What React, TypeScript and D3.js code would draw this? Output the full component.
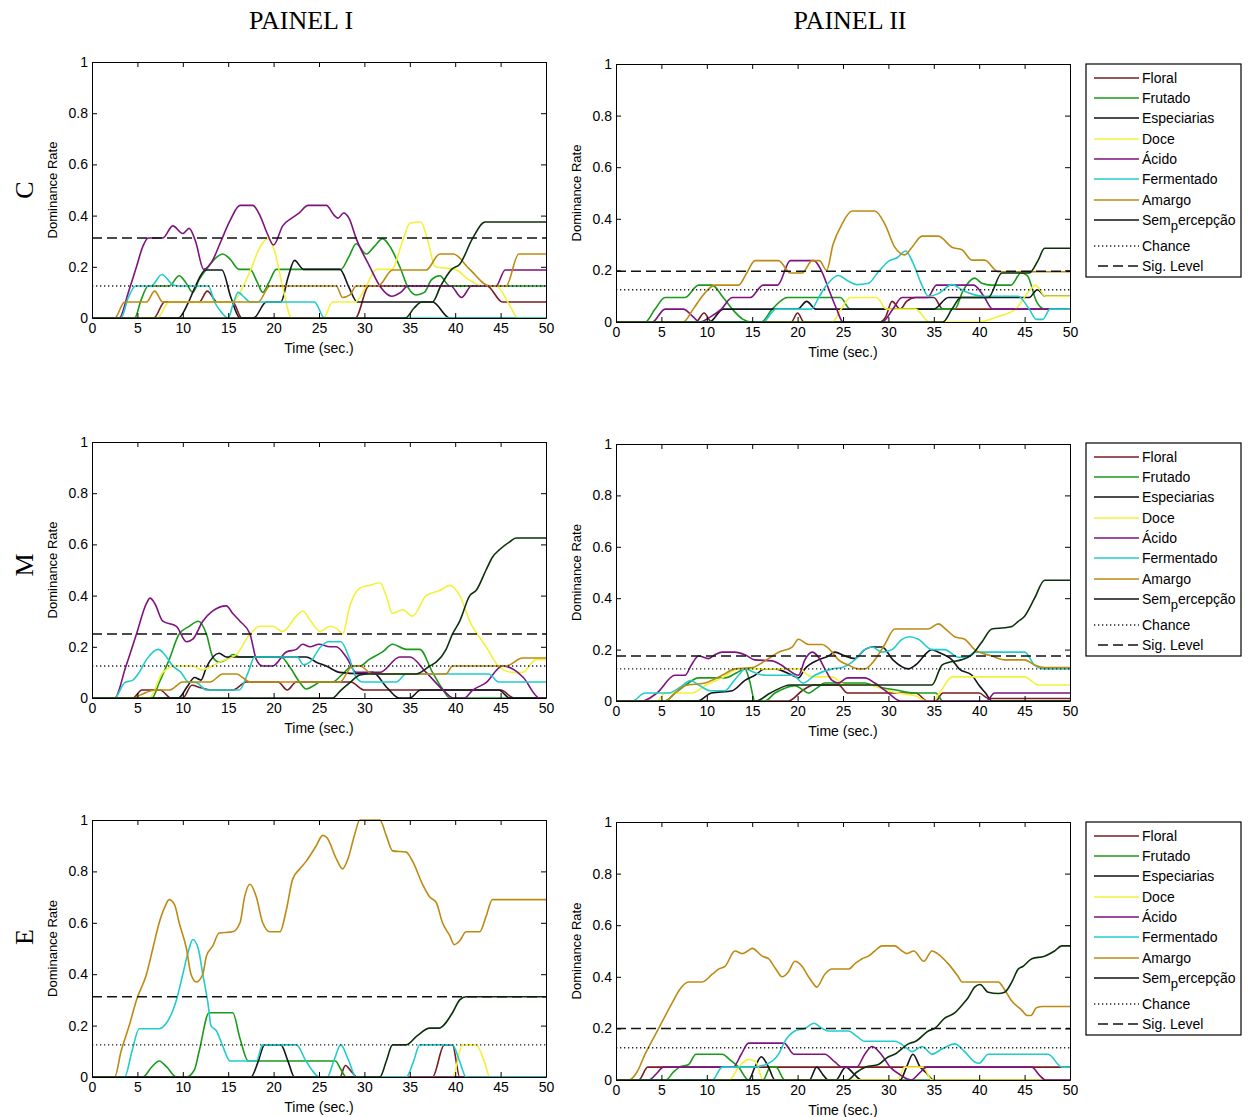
import React, { useEffect, useRef } from 'react'
import * as d3 from 'd3'

const WIDTH = 1248
const HEIGHT = 1117

type Pt = [number, number]

const SERIES_NAMES = ['Floral', 'Frutado', 'Especiarias', 'Doce', 'Ácido', 'Fermentado', 'Amargo', 'Sem_percepção']
const SERIES_COLORS = ['#7a1c22', '#1a9a1a', '#14141e', '#f2f23a', '#7e127e', '#22cccc', '#bd8a12', '#0c300c']
const X_TICKS = [0, 5, 10, 15, 20, 25, 30, 35, 40, 45, 50]
const Y_TICKS = [0, 0.2, 0.4, 0.6, 0.8, 1]
const PANEL_TITLES = ['PAINEL I', 'PAINEL II']
const ROW_LABELS = ['C', 'M', 'E']
const CHANCE_LEVEL = 0.125
const SIG_I = [0.3125, 0.25, 0.3125]
const SIG_II = [0.197, 0.175, 0.2]

// ---- C / Painel I
const C_I_FLORAL: Pt[] = [[0, 0], [6.8, 0], [8, 0.0625], [11.8, 0.0625], [12.7, 0.105], [13.8, 0.0625], [15.5, 0.0625], [16.5, 0], [29, 0], [30.5, 0.125], [43.5, 0.125], [45.2, 0.0625], [50, 0.0625]]
const C_I_FRUTADO: Pt[] = [[0, 0], [4.7, 0], [5.4, 0.07], [6.2, 0.125], [8.5, 0.125], [9.6, 0.165], [10.3, 0.14], [11.1, 0.1], [11.8, 0.15], [12.6, 0.19], [13.5, 0.23], [14.4, 0.25], [15.2, 0.23], [16.2, 0.19], [17.4, 0.19], [18.2, 0.14], [18.8, 0.1], [19.5, 0.14], [20.3, 0.19], [27.4, 0.19], [28.3, 0.24], [29.1, 0.29], [30.2, 0.25], [31.1, 0.28], [32, 0.31], [32.8, 0.28], [33.9, 0.2], [34.8, 0.12], [35.7, 0.09], [36.6, 0.1], [37.4, 0.15], [38.3, 0.165], [39.4, 0.125], [50, 0.125]]
const C_I_ESPECIARIAS: Pt[] = [[0, 0], [9.5, 0], [10.6, 0.06], [11.4, 0.125], [12.5, 0.1875], [14.3, 0.1875], [15.3, 0.08], [16.3, 0], [17.8, 0], [19.2, 0.0625], [20.8, 0.0625], [21.6, 0.16], [22.3, 0.225], [23.3, 0.19], [27.3, 0.19], [28.3, 0.12], [29.2, 0.0625], [37.5, 0.0625], [39.4, 0], [50, 0]]
const C_I_DOCE: Pt[] = [[0, 0], [7.2, 0], [8.5, 0.0625], [15.5, 0.0625], [16.3, 0.1], [17.5, 0.19], [18.4, 0.27], [19.4, 0.31], [20.2, 0.25], [21, 0.12], [22, 0], [25.5, 0], [26.5, 0.0625], [29, 0.0625], [30.2, 0.125], [31.3, 0.19], [33, 0.19], [34.2, 0.3], [35, 0.37], [36.2, 0.375], [37, 0.3], [37.8, 0.2], [40, 0.19], [41.5, 0.15], [43, 0.125], [44.5, 0.125], [46, 0.05], [46.9, 0], [50, 0]]
const C_I_ACIDO: Pt[] = [[0, 0], [3, 0], [4, 0.1], [4.9, 0.2], [5.6, 0.28], [6.2, 0.3125], [7.8, 0.3125], [8.9, 0.36], [10, 0.33], [10.7, 0.35], [11.4, 0.3], [12.3, 0.19], [13.2, 0.22], [14.2, 0.3], [15.2, 0.38], [16.3, 0.44], [17.7, 0.44], [18.5, 0.4], [19.3, 0.33], [20, 0.285], [21, 0.36], [22, 0.39], [22.8, 0.41], [23.8, 0.44], [25.8, 0.44], [26.7, 0.4], [27.1, 0.39], [27.7, 0.41], [28.3, 0.39], [29.1, 0.31], [30.6, 0.2], [31.8, 0.12], [33, 0.085], [34, 0.1], [34.8, 0.125], [39.5, 0.125], [40.7, 0.08], [41.8, 0.125], [44.5, 0.125], [45.5, 0.1875], [50, 0.1875]]
const C_I_FERMENTADO: Pt[] = [[0, 0], [3.2, 0], [4, 0.08], [4.8, 0.125], [6.5, 0.125], [7.7, 0.17], [8.9, 0.13], [9.5, 0.125], [12.8, 0.125], [13.5, 0.0625], [14.3, 0.02], [15, 0], [15.5, 0.05], [16.1, 0.1], [16.8, 0.08], [17.4, 0.0625], [24.5, 0.0625], [25.6, 0], [50, 0]]
const C_I_AMARGO: Pt[] = [[0, 0], [2.5, 0], [3.6, 0.0625], [6, 0.0625], [6.9, 0.105], [7.8, 0.0625], [18.3, 0.0625], [19.6, 0.125], [26.9, 0.125], [27.6, 0.08], [28.4, 0.09], [29.1, 0.125], [31.5, 0.125], [33.1, 0.1875], [36.8, 0.1875], [38.3, 0.25], [39.8, 0.25], [41.6, 0.19], [43.8, 0.125], [45.6, 0.125], [47, 0.25], [50, 0.25]]
const C_I_SEMP: Pt[] = [[0, 0], [34.5, 0], [35.5, 0.04], [36.3, 0.0625], [37.5, 0.0625], [38.4, 0.125], [39.6, 0.19], [40.5, 0.21], [41.9, 0.31], [43.3, 0.375], [50, 0.375]]

// ---- C / Painel II
const C_II_FLORAL: Pt[] = [[0, 0], [8.8, 0], [9.7, 0.035], [10.5, 0], [19.3, 0], [20, 0.035], [20.7, 0], [29, 0], [29.7, 0.02], [30.4, 0.08], [31.3, 0.05], [32, 0.08], [33, 0.095], [35, 0.095], [36, 0.05], [50, 0.05]]
const C_II_FRUTADO: Pt[] = [[0, 0], [3.2, 0], [4.3, 0.05], [5.4, 0.095], [7.6, 0.095], [9.1, 0.143], [10.6, 0.143], [11.7, 0.1], [12.8, 0.05], [14, 0.01], [14.8, 0], [16, 0], [17.2, 0.05], [18.9, 0.095], [24.7, 0.095], [25.8, 0.05], [37.3, 0.05], [38.2, 0.12], [39.5, 0.17], [40.3, 0.15], [41.3, 0.143], [43.5, 0.143], [44.6, 0.19], [45.3, 0.18], [46.3, 0.08], [47.2, 0.05], [50, 0.05]]
const C_II_ESPECIARIAS: Pt[] = [[0, 0], [10.3, 0], [11.8, 0.05], [20, 0.05], [21, 0.08], [22, 0.05], [35, 0.05], [36.6, 0.095], [45.5, 0.095], [46.4, 0.125], [47.3, 0.1], [50, 0.1]]
const C_II_DOCE: Pt[] = [[0, 0], [23.8, 0], [24.8, 0.05], [25.8, 0.095], [28.7, 0.095], [29.8, 0.05], [33, 0.05], [34.5, 0], [40, 0], [42, 0.02], [44, 0.05], [45.5, 0.12], [46.2, 0.143], [47.3, 0.1], [50, 0.1]]
const C_II_ACIDO: Pt[] = [[0, 0], [4, 0], [5.4, 0.05], [7.4, 0.05], [8.5, 0.02], [9.2, 0], [10.4, 0.02], [11.6, 0.05], [12.8, 0.095], [14.8, 0.095], [16.2, 0.143], [17.8, 0.143], [19.2, 0.238], [21.8, 0.238], [22.6, 0.2], [23.5, 0.12], [24.3, 0.05], [25, 0], [29.3, 0], [30.5, 0.05], [31.5, 0.095], [34.3, 0.095], [35.3, 0.143], [39.4, 0.143], [40.5, 0.1], [41.5, 0.05], [50, 0.05]]
const C_II_FERMENTADO: Pt[] = [[0, 0], [16.2, 0], [17.6, 0.05], [21.5, 0.05], [22.4, 0.1], [23.2, 0.143], [24.5, 0.18], [25.5, 0.16], [26.5, 0.145], [27.8, 0.15], [28.8, 0.19], [30, 0.235], [31, 0.25], [31.9, 0.275], [32.7, 0.23], [33.6, 0.15], [34.4, 0.1], [35.5, 0.11], [37, 0.145], [38.3, 0.12], [40.5, 0.1], [44.3, 0.1], [45.5, 0.05], [46.3, 0.01], [47, 0.01], [47.8, 0.05], [50, 0.05]]
const C_II_AMARGO: Pt[] = [[0, 0], [7.4, 0], [8.5, 0.05], [9.5, 0.1], [10.9, 0.143], [13.5, 0.143], [14.4, 0.19], [15.3, 0.238], [17.9, 0.238], [19.2, 0.19], [20.5, 0.19], [21.6, 0.238], [22.4, 0.238], [23.2, 0.2], [23.9, 0.3], [24.9, 0.38], [26, 0.43], [28.5, 0.43], [29.6, 0.38], [30.7, 0.29], [31.8, 0.26], [32.6, 0.29], [33.7, 0.333], [35.5, 0.333], [37, 0.29], [38.1, 0.28], [39.2, 0.24], [40.6, 0.24], [42.1, 0.195], [50, 0.195]]
const C_II_SEMP: Pt[] = [[0, 0], [36, 0], [37, 0.05], [38, 0.095], [41, 0.095], [42.5, 0.19], [45.5, 0.19], [46.5, 0.24], [47.2, 0.286], [50, 0.286]]

// ---- M / Painel I
const M_I_FLORAL: Pt[] = [[0, 0], [4.5, 0], [5.5, 0.031], [7.5, 0.031], [8.7, 0], [10, 0], [11, 0.05], [12, 0.04], [13.3, 0.031], [15.5, 0.031], [17, 0.0625], [20.5, 0.0625], [21.5, 0.031], [22.5, 0.0625], [28.5, 0.0625], [30, 0.031], [45, 0.031], [46.5, 0], [50, 0]]
const M_I_FRUTADO: Pt[] = [[0, 0], [6.6, 0], [7.4, 0.06], [8.5, 0.15], [9.6, 0.25], [10.7, 0.28], [11.7, 0.3], [12.6, 0.25], [13.3, 0.16], [14, 0.14], [14.8, 0.15], [15.5, 0.17], [16.3, 0.16], [20.8, 0.16], [21.8, 0.12], [22.9, 0.06], [23.6, 0.035], [24.5, 0.05], [25.1, 0.0625], [26.5, 0.0625], [27.5, 0.09], [28.7, 0.125], [29.5, 0.125], [30.5, 0.15], [32, 0.18], [33.1, 0.21], [34.6, 0.19], [36.1, 0.19], [37.5, 0.1], [38.6, 0.035], [39.4, 0], [50, 0]]
const M_I_ESPECIARIAS: Pt[] = [[0, 0], [9.5, 0], [10.5, 0.045], [11.3, 0.08], [12, 0.07], [12.6, 0.12], [14, 0.175], [14.8, 0.16], [23.6, 0.16], [24.7, 0.14], [25.8, 0.125], [27.3, 0.1], [29.5, 0.095], [30.9, 0.1], [32.5, 0.04], [33.8, 0], [35, 0], [36.2, 0.031], [44.8, 0.031], [46, 0], [50, 0]]
const M_I_DOCE: Pt[] = [[0, 0], [6.3, 0], [7.8, 0.1], [9.3, 0.125], [11.1, 0.125], [12, 0.11], [13, 0.12], [14, 0.14], [15.9, 0.17], [17.4, 0.25], [18.5, 0.28], [19.9, 0.28], [21, 0.26], [22.5, 0.32], [23.2, 0.34], [24.1, 0.3], [25.1, 0.26], [26.2, 0.28], [27, 0.27], [27.6, 0.25], [28.4, 0.36], [29.5, 0.43], [30.6, 0.44], [31.7, 0.45], [32.4, 0.4], [33.1, 0.33], [34.2, 0.345], [35.3, 0.32], [36.8, 0.4], [38.3, 0.42], [39.4, 0.44], [40.5, 0.4], [41.6, 0.3], [43.4, 0.2], [44.9, 0.12], [46.3, 0.1], [47.4, 0.1], [48.9, 0.15], [50, 0.15]]
const M_I_ACIDO: Pt[] = [[0, 0], [2.5, 0], [3.7, 0.12], [4.9, 0.25], [6, 0.37], [6.4, 0.39], [6.9, 0.37], [7.8, 0.3], [9.3, 0.28], [10.4, 0.22], [11.1, 0.23], [12.2, 0.3], [13.3, 0.34], [14.8, 0.36], [15.5, 0.33], [16.3, 0.3], [17.4, 0.25], [18.1, 0.15], [18.8, 0.125], [19.9, 0.125], [21.4, 0.18], [22.5, 0.19], [23.2, 0.21], [24, 0.2], [25, 0.21], [26.2, 0.2], [26.9, 0.2], [28, 0.16], [29.1, 0.1], [31.7, 0.1], [33.9, 0.16], [35, 0.16], [36.8, 0.1], [38.7, 0.03], [39.8, 0], [41, 0], [41.9, 0.03], [43.4, 0.06], [45.2, 0.125], [46.5, 0.11], [47.5, 0.08], [49.3, 0], [50, 0]]
const M_I_FERMENTADO: Pt[] = [[0, 0], [2.5, 0], [3.6, 0.06], [4.5, 0.07], [5.2, 0.1], [6, 0.15], [7.3, 0.19], [8, 0.17], [8.9, 0.125], [9.8, 0.1], [10.6, 0.0625], [11.5, 0.06], [12.6, 0.031], [16.2, 0.031], [17.2, 0.1], [17.9, 0.16], [22.6, 0.16], [23.3, 0.13], [24, 0.14], [25.2, 0.2], [26, 0.22], [27.4, 0.22], [28.3, 0.16], [29.1, 0.08], [29.8, 0.0625], [33.5, 0.0625], [34.6, 0.094], [43.7, 0.094], [44.8, 0.0625], [50, 0.0625]]
const M_I_AMARGO: Pt[] = [[0, 0], [4.5, 0], [5.5, 0.015], [7, 0.031], [8.5, 0.031], [10, 0.0625], [13, 0.0625], [14.4, 0.094], [15.9, 0.094], [17.4, 0.0625], [27.3, 0.0625], [28.7, 0.125], [29.5, 0.125], [30.9, 0.094], [39, 0.094], [39.7, 0.125], [45.6, 0.125], [47.4, 0.156], [50, 0.156]]
const M_I_SEMP: Pt[] = [[0, 0], [26.5, 0], [27.4, 0.03], [28.4, 0.06], [29.5, 0.09], [30.5, 0.094], [35.7, 0.094], [37.2, 0.125], [37.9, 0.14], [39, 0.19], [39.7, 0.25], [40.5, 0.3], [41.6, 0.4], [42.3, 0.42], [43.4, 0.5], [44.1, 0.55], [44.9, 0.58], [46, 0.61], [46.7, 0.625], [50, 0.625]]

// ---- M / Painel II
const M_II_FLORAL: Pt[] = [[0, 0], [19, 0], [20.5, 0.04], [21.8, 0.0625], [24.5, 0.0625], [25.5, 0.031], [33, 0.031], [34.3, 0], [35.2, 0], [36, 0.031], [40, 0.031], [41, 0.01], [44, 0.01], [50, 0.01]]
const M_II_FRUTADO: Pt[] = [[0, 0], [5.4, 0], [6.5, 0.031], [7.6, 0.06], [9.1, 0.09], [12, 0.09], [13.3, 0.11], [14.2, 0.125], [14.7, 0.08], [15.3, 0], [16.4, 0], [17.5, 0.031], [18.6, 0.05], [19.7, 0.06], [20.5, 0.045], [21.2, 0.031], [22.1, 0.05], [23, 0.07], [27.4, 0.07], [28.4, 0.06], [29.5, 0.05], [30.5, 0.045], [33, 0.031], [35.2, 0.031], [36, 0], [50, 0]]
const M_II_ESPECIARIAS: Pt[] = [[0, 0], [9, 0], [10.5, 0.031], [12.8, 0.04], [14.2, 0.08], [15.3, 0.1], [16.4, 0.125], [17.5, 0.125], [19.4, 0.1], [20.1, 0.09], [20.8, 0.125], [22.3, 0.16], [23.4, 0.175], [24.1, 0.19], [25.2, 0.175], [26.3, 0.165], [27.4, 0.2], [28.2, 0.21], [29.3, 0.21], [30.5, 0.16], [32.2, 0.125], [33, 0.14], [34.8, 0.2], [35.5, 0.19], [37, 0.16], [37.8, 0.125], [39.2, 0.1], [40, 0.06], [40.7, 0.031], [41.4, 0], [50, 0]]
const M_II_DOCE: Pt[] = [[0, 0], [4.5, 0], [5.4, 0.031], [8.4, 0.031], [9.8, 0.06], [11.7, 0.09], [13.5, 0.125], [20.1, 0.125], [21.6, 0.094], [23.8, 0.094], [25.2, 0.0625], [28, 0.0625], [29.5, 0.045], [31, 0.031], [33, 0.02], [34.2, 0], [34.8, 0], [35.8, 0.04], [37, 0.094], [45, 0.094], [46.5, 0.0625], [50, 0.0625]]
const M_II_ACIDO: Pt[] = [[0, 0], [2.9, 0], [4.5, 0.031], [6.5, 0.1], [7.6, 0.1], [8.3, 0.14], [9.1, 0.175], [10.2, 0.165], [10.9, 0.18], [11.7, 0.19], [13.1, 0.19], [14.2, 0.18], [15.3, 0.16], [17.2, 0.156], [18.2, 0.14], [18.8, 0.125], [20.1, 0.1], [20.8, 0.16], [21.6, 0.19], [22.3, 0.17], [23, 0.125], [23.8, 0.08], [24.5, 0.07], [25.5, 0.09], [27.4, 0.09], [28.5, 0.07], [30, 0.031], [31.3, 0], [40.8, 0], [41.7, 0.031], [50, 0.031]]
const M_II_FERMENTADO: Pt[] = [[0, 0], [1.8, 0], [3.2, 0.031], [5.8, 0.031], [7.3, 0.06], [8.2, 0.08], [9.2, 0.06], [10.4, 0.04], [12, 0.04], [12.8, 0.07], [13.5, 0.1], [14.2, 0.125], [15.3, 0.11], [16.4, 0.1], [19.5, 0.1], [20.6, 0.07], [21.9, 0.1], [23.8, 0.125], [24.9, 0.13], [26.3, 0.16], [27.4, 0.2], [28.2, 0.21], [29.3, 0.19], [30.4, 0.2], [31.5, 0.24], [32.3, 0.25], [33.3, 0.24], [34.8, 0.2], [36.2, 0.2], [37.7, 0.17], [38.6, 0.17], [39.5, 0.19], [45, 0.19], [46.1, 0.14], [47.2, 0.125], [50, 0.125]]
const M_II_AMARGO: Pt[] = [[0, 0], [5.4, 0], [6.5, 0.031], [7.6, 0.06], [9.8, 0.07], [11.7, 0.1], [13.1, 0.125], [15, 0.13], [16.4, 0.156], [17.9, 0.19], [19.4, 0.21], [20.1, 0.24], [21.2, 0.22], [22.7, 0.22], [23.8, 0.19], [24.5, 0.16], [25.6, 0.14], [26.7, 0.125], [27.4, 0.125], [28.5, 0.16], [29.6, 0.22], [30.7, 0.28], [34.4, 0.28], [35.5, 0.3], [36.3, 0.28], [37.3, 0.25], [38.4, 0.24], [39.5, 0.2], [41.4, 0.175], [42.8, 0.16], [45, 0.16], [46.1, 0.14], [47.2, 0.13], [50, 0.13]]
const M_II_SEMP: Pt[] = [[0, 0], [15.4, 0], [17, 0.031], [19.2, 0.0625], [34.8, 0.0625], [35.9, 0.14], [36.6, 0.15], [38, 0.16], [39.2, 0.18], [40.3, 0.23], [41.4, 0.28], [42.8, 0.285], [43.6, 0.29], [44.3, 0.31], [45, 0.33], [46.1, 0.4], [47.2, 0.47], [50, 0.47]]

// ---- E / Painel I
const E_I_FLORAL: Pt[] = [[0, 0], [27.3, 0], [27.9, 0.045], [28.6, 0.02], [29.2, 0], [37.5, 0], [38.8, 0.125], [39.7, 0.125], [40.5, 0], [50, 0]]
const E_I_FRUTADO: Pt[] = [[0, 0], [5.6, 0], [6.6, 0.04], [7.4, 0.0625], [8.2, 0.04], [9.3, 0], [10.4, 0], [11.3, 0.03], [11.8, 0.1], [12.9, 0.25], [15.5, 0.25], [16.3, 0.15], [17.2, 0.0625], [26.8, 0.0625], [27.4, 0.03], [28, 0], [50, 0]]
const E_I_ESPECIARIAS: Pt[] = [[0, 0], [17.5, 0], [18.3, 0.06], [19, 0.125], [20.8, 0.125], [21.6, 0.06], [22.3, 0], [50, 0]]
const E_I_DOCE: Pt[] = [[0, 0], [39.7, 0], [40.8, 0.125], [42.3, 0.125], [43.3, 0.05], [43.8, 0], [50, 0]]
const E_I_ACIDO: Pt[] = [[0, 0], [50, 0]]
const E_I_FERMENTADO: Pt[] = [[0, 0], [3.6, 0], [4.4, 0.1], [5.2, 0.1875], [7.4, 0.1875], [8.2, 0.21], [9.3, 0.3], [10, 0.4], [10.7, 0.5], [11.1, 0.535], [11.7, 0.5], [12.2, 0.4], [12.8, 0.28], [13.1, 0.2], [13.7, 0.18], [14.4, 0.12], [15.2, 0.0625], [18.1, 0.0625], [18.8, 0.125], [22.5, 0.125], [23.6, 0.06], [25.1, 0], [25.9, 0], [26.7, 0.07], [27.4, 0.125], [28.2, 0.07], [29.1, 0], [34.6, 0], [35.4, 0.06], [36.1, 0.125], [39.7, 0.125], [40.5, 0.06], [41.2, 0], [50, 0]]
const E_I_AMARGO: Pt[] = [[0, 0], [2.5, 0], [3.2, 0.1], [4.1, 0.2], [4.9, 0.3], [6, 0.4], [6.7, 0.5], [7.4, 0.6], [8, 0.66], [8.5, 0.69], [9.1, 0.67], [9.6, 0.6], [10.4, 0.5], [10.9, 0.4], [11.5, 0.37], [12.2, 0.4], [12.6, 0.47], [13.3, 0.51], [14, 0.56], [15.5, 0.565], [16.3, 0.6], [16.8, 0.7], [17.4, 0.75], [18.1, 0.7], [18.8, 0.6], [19.6, 0.565], [20.7, 0.565], [21.4, 0.65], [22.1, 0.77], [22.9, 0.81], [23.6, 0.84], [24.7, 0.9], [25.4, 0.94], [25.9, 0.93], [26.9, 0.85], [27.6, 0.81], [28.2, 0.85], [28.9, 0.94], [29.5, 1], [31.7, 1], [32.4, 0.94], [33.1, 0.88], [34.6, 0.875], [35.3, 0.84], [36.4, 0.75], [37.2, 0.7], [37.9, 0.68], [38.6, 0.6], [39.4, 0.55], [39.9, 0.515], [40.5, 0.53], [41.2, 0.565], [42.7, 0.565], [43.4, 0.625], [44.1, 0.69], [50, 0.69]]
const E_I_SEMP: Pt[] = [[0, 0], [31.7, 0], [32.4, 0.06], [33.1, 0.125], [34.6, 0.125], [35.8, 0.16], [37.2, 0.19], [38.2, 0.19], [39.7, 0.25], [40.5, 0.3], [41.2, 0.3125], [50, 0.3125]]

// ---- E / Painel II
const E_II_FLORAL: Pt[] = [[0, 0], [2.5, 0], [3.5, 0.05], [50, 0.05]]
const E_II_FRUTADO: Pt[] = [[0, 0], [5.5, 0], [6.3, 0.03], [7, 0.05], [8, 0.06], [8.8, 0.1], [11.7, 0.1], [12.5, 0.08], [13.5, 0.05], [14.6, 0], [16.2, 0], [17, 0.05], [17.6, 0.05], [18.6, 0], [50, 0]]
const E_II_ESPECIARIAS: Pt[] = [[0, 0], [14.6, 0], [15.3, 0.05], [16, 0.09], [16.8, 0.05], [17.5, 0], [21.3, 0], [22.1, 0.05], [22.8, 0.02], [23.4, 0], [24.2, 0], [25.3, 0.05], [26.3, 0.02], [27, 0], [31.3, 0], [32, 0.05], [32.7, 0.1], [33.5, 0.05], [34.1, 0.03], [35, 0], [50, 0]]
const E_II_DOCE: Pt[] = [[0, 0], [12.5, 0], [13.5, 0.05], [14.6, 0.08], [15.4, 0.07], [16.2, 0], [31, 0], [31.8, 0.05], [33.8, 0.05], [34.8, 0], [50, 0]]
const E_II_ACIDO: Pt[] = [[0, 0], [3.6, 0], [4.6, 0.03], [5.2, 0.05], [12.9, 0.05], [13.8, 0.1], [14.6, 0.143], [18.5, 0.143], [19.6, 0.1], [23, 0.1], [24.1, 0.07], [24.9, 0.05], [26.5, 0.05], [27.4, 0.1], [28.2, 0.13], [29.2, 0.1], [30.2, 0.05], [31.3, 0.02], [32.5, 0], [33.5, 0.03], [34.2, 0.05], [45.8, 0.05], [46.6, 0.02], [47.3, 0], [50, 0]]
const E_II_FERMENTADO: Pt[] = [[0, 0], [10.6, 0], [11.7, 0.05], [15, 0.05], [16.5, 0.06], [17.9, 0.1], [18.6, 0.15], [19.7, 0.19], [20.8, 0.2], [21.8, 0.22], [22.7, 0.2], [23.4, 0.19], [25.6, 0.19], [26.5, 0.17], [27.4, 0.15], [30.7, 0.15], [31.8, 0.13], [32.6, 0.11], [33.7, 0.13], [34.8, 0.1], [35.9, 0.12], [37.3, 0.14], [38.4, 0.11], [39.5, 0.07], [40, 0.065], [41, 0.1], [47.6, 0.1], [49.1, 0.05], [50, 0.05]]
const E_II_AMARGO: Pt[] = [[0, 0], [1.4, 0], [2.3, 0.03], [3.2, 0.1], [4.7, 0.2], [6.2, 0.3], [7, 0.35], [8, 0.38], [9.5, 0.38], [10.6, 0.41], [11.3, 0.43], [12, 0.44], [13.1, 0.5], [13.9, 0.49], [14.5, 0.5], [15, 0.51], [16.1, 0.48], [16.8, 0.47], [17.6, 0.43], [18.3, 0.4], [19, 0.42], [19.7, 0.46], [20.5, 0.44], [21.2, 0.4], [21.6, 0.38], [22.1, 0.36], [23, 0.41], [23.8, 0.43], [25.6, 0.43], [26.3, 0.45], [27.1, 0.47], [27.8, 0.48], [28.5, 0.5], [29.3, 0.52], [30.7, 0.52], [31.5, 0.5], [32, 0.49], [32.8, 0.5], [33.9, 0.46], [34.8, 0.5], [35.4, 0.49], [36.6, 0.45], [37.7, 0.4], [38.1, 0.38], [42.1, 0.38], [42.8, 0.35], [43.5, 0.31], [44.7, 0.27], [45.3, 0.25], [45.7, 0.25], [46.3, 0.28], [47, 0.285], [50, 0.285]]
const E_II_SEMP: Pt[] = [[0, 0], [25.5, 0], [26.5, 0.03], [27.5, 0.05], [28.9, 0.06], [30, 0.09], [30.7, 0.1], [32.2, 0.14], [33, 0.15], [34.4, 0.19], [35.1, 0.2], [36.2, 0.24], [37.3, 0.26], [38.1, 0.29], [38.8, 0.32], [39.5, 0.36], [40.1, 0.37], [41, 0.34], [42.1, 0.335], [42.8, 0.34], [43.6, 0.38], [44.3, 0.43], [44.8, 0.44], [45.8, 0.47], [47.2, 0.48], [48.3, 0.5], [49.1, 0.52], [50, 0.52]]

const PANEL_DATA: Pt[][][][] = [
  [
    [C_I_FLORAL, C_I_FRUTADO, C_I_ESPECIARIAS, C_I_DOCE, C_I_ACIDO, C_I_FERMENTADO, C_I_AMARGO, C_I_SEMP],
    [C_II_FLORAL, C_II_FRUTADO, C_II_ESPECIARIAS, C_II_DOCE, C_II_ACIDO, C_II_FERMENTADO, C_II_AMARGO, C_II_SEMP],
  ],
  [
    [M_I_FLORAL, M_I_FRUTADO, M_I_ESPECIARIAS, M_I_DOCE, M_I_ACIDO, M_I_FERMENTADO, M_I_AMARGO, M_I_SEMP],
    [M_II_FLORAL, M_II_FRUTADO, M_II_ESPECIARIAS, M_II_DOCE, M_II_ACIDO, M_II_FERMENTADO, M_II_AMARGO, M_II_SEMP],
  ],
  [
    [E_I_FLORAL, E_I_FRUTADO, E_I_ESPECIARIAS, E_I_DOCE, E_I_ACIDO, E_I_FERMENTADO, E_I_AMARGO, E_I_SEMP],
    [E_II_FLORAL, E_II_FRUTADO, E_II_ESPECIARIAS, E_II_DOCE, E_II_ACIDO, E_II_FERMENTADO, E_II_AMARGO, E_II_SEMP],
  ],
]

// layout
const COL_X = [{ left: 92, right: 546 }, { left: 616, right: 1070 }]
const ROW_Y = [
  [{ top: 62, bottom: 318 }, { top: 64, bottom: 322 }],
  [{ top: 442, bottom: 698 }, { top: 444, bottom: 701 }],
  [{ top: 820, bottom: 1077 }, { top: 822, bottom: 1080 }],
]
const TITLE_X = [301, 850]
const ROW_LABEL_Y = [190, 565, 937]
const LEGEND_TOP = [64, 443, 822]
const SANS = '"Liberation Sans", Arial, sans-serif'
const SERIF = '"Liberation Serif", "Times New Roman", serif'

export default function App() {
  const ref = useRef<SVGSVGElement>(null)

  useEffect(() => {
    const svg = d3.select(ref.current)
    svg.selectAll('*').remove()

    svg.append('rect').attr('width', WIDTH).attr('height', HEIGHT).attr('fill', '#fff')

    // column titles
    PANEL_TITLES.forEach((t, c) => {
      svg.append('text')
        .attr('x', TITLE_X[c])
        .attr('y', 29)
        .attr('text-anchor', 'middle')
        .attr('font-family', SERIF)
        .attr('font-size', 26)
        .text(t)
    })

    ROW_LABELS.forEach((t, r) => {
      svg.append('text')
        .attr('transform', `translate(33, ${ROW_LABEL_Y[r]}) rotate(-90)`)
        .attr('text-anchor', 'middle')
        .attr('font-family', SERIF)
        .attr('font-size', 26)
        .text(t)
    })

    PANEL_DATA.forEach((row, r) => {
      row.forEach((series, c) => {
        const { left, right } = COL_X[c]
        const { top, bottom } = ROW_Y[r][c]
        const x = d3.scaleLinear().domain([0, 50]).range([left, right])
        const y = d3.scaleLinear().domain([0, 1]).range([bottom, top])
        const g = svg.append('g')
        const clipId = `clip-${r}-${c}`
        g.append('clipPath').attr('id', clipId)
          .append('rect')
          .attr('x', left).attr('y', top - 1)
          .attr('width', right - left).attr('height', bottom - top + 1)

        const line = d3.line<Pt>()
          .x((d) => x(d[0]))
          .y((d) => y(d[1]))
          .curve(d3.curveMonotoneX)

        const plot = g.append('g').attr('clip-path', `url(#${clipId})`)
        series.forEach((pts, i) => {
          plot.append('path')
            .attr('d', line(pts))
            .attr('fill', 'none')
            .attr('stroke', SERIES_COLORS[i])
            .attr('stroke-width', 1.6)
        })

        plot.append('line')
          .attr('x1', x(0)).attr('x2', x(50))
          .attr('y1', y(CHANCE_LEVEL)).attr('y2', y(CHANCE_LEVEL))
          .attr('stroke', '#222').attr('stroke-width', 1.3)
          .attr('stroke-dasharray', '1.3,2.7')

        const sig = c === 0 ? SIG_I[r] : SIG_II[r]
        plot.append('line')
          .attr('x1', x(0)).attr('x2', x(50))
          .attr('y1', y(sig)).attr('y2', y(sig))
          .attr('stroke', '#111').attr('stroke-width', 1.5)
          .attr('stroke-dasharray', '10,5')

        // axes (matlab-style inner ticks on all sides)
        const fmt = (d: d3.NumberValue) => `${+d}`
        const styleAxis = (a: d3.Selection<SVGGElement, unknown, null, undefined>) => {
          a.selectAll('path').attr('stroke', '#000').attr('stroke-width', 1)
          a.selectAll('line').attr('stroke', '#000').attr('stroke-width', 1)
          a.selectAll('text')
            .attr('font-family', SANS)
            .attr('font-size', 14)
            .attr('fill', '#000')
        }
        const xb = g.append('g').attr('transform', `translate(0, ${bottom})`)
          .call(d3.axisBottom(x).tickValues(X_TICKS).tickFormat(fmt).tickSizeInner(-5).tickSizeOuter(0).tickPadding(5))
        styleAxis(xb)
        const xt = g.append('g').attr('transform', `translate(0, ${top})`)
          .call(d3.axisTop(x).tickValues(X_TICKS).tickFormat(() => '').tickSizeInner(-5).tickSizeOuter(0))
        styleAxis(xt)
        const yl = g.append('g').attr('transform', `translate(${left}, 0)`)
          .call(d3.axisLeft(y).tickValues(Y_TICKS).tickFormat(fmt).tickSizeInner(-5).tickSizeOuter(0).tickPadding(4))
        styleAxis(yl)
        const yr = g.append('g').attr('transform', `translate(${right}, 0)`)
          .call(d3.axisRight(y).tickValues(Y_TICKS).tickFormat(() => '').tickSizeInner(-5).tickSizeOuter(0))
        styleAxis(yr)

        g.append('text')
          .attr('x', (left + right) / 2)
          .attr('y', bottom + 35)
          .attr('text-anchor', 'middle')
          .attr('font-family', SANS)
          .attr('font-size', 14)
          .text('Time (sec.)')

        g.append('text')
          .attr('transform', `translate(${left - 35}, ${(top + bottom) / 2}) rotate(-90)`)
          .attr('text-anchor', 'middle')
          .attr('font-family', SANS)
          .attr('font-size', 13)
          .text('Dominance Rate')
      })

      // legend
      const lg = svg.append('g').attr('transform', `translate(1086, ${LEGEND_TOP[r]})`)
      lg.append('rect')
        .attr('width', 155).attr('height', 213)
        .attr('fill', '#fff').attr('stroke', '#000').attr('stroke-width', 1.2)
      const rowsY = [14, 34, 54, 75, 95, 115, 136, 156, 182, 202]
      const entries = [
        ...SERIES_NAMES.map((n, i) => ({ name: n, color: SERIES_COLORS[i], dash: '' })),
        { name: 'Chance', color: '#222', dash: '1.3,2.7' },
        { name: 'Sig. Level', color: '#111', dash: '10,5' },
      ]
      entries.forEach((e, i) => {
        const cy = rowsY[i]
        lg.append('line')
          .attr('x1', e.name === 'Sig. Level' ? 12 : 8).attr('x2', 53)
          .attr('y1', cy).attr('y2', cy)
          .attr('stroke', i === 2 || i === 7 ? '#111' : e.color)
          .attr('stroke-width', 1.5)
          .attr('stroke-dasharray', e.dash || null)
        const t = lg.append('text')
          .attr('x', 56)
          .attr('y', cy + 5)
          .attr('font-family', SANS)
          .attr('font-size', 14)
        if (e.name.includes('_')) {
          const [a, b] = e.name.split('_')
          t.append('tspan').text(a)
          t.append('tspan').attr('dy', 5).attr('font-size', 13).text(b[0])
          t.append('tspan').attr('dy', -5).text(b.slice(1))
        } else {
          t.text(e.name)
        }
      })
    })
  }, [])

  return (
    <svg
      ref={ref}
      width={WIDTH}
      height={HEIGHT}
      style={{ position: 'absolute', left: 0, top: 0, display: 'block' }}
    />
  )
}
